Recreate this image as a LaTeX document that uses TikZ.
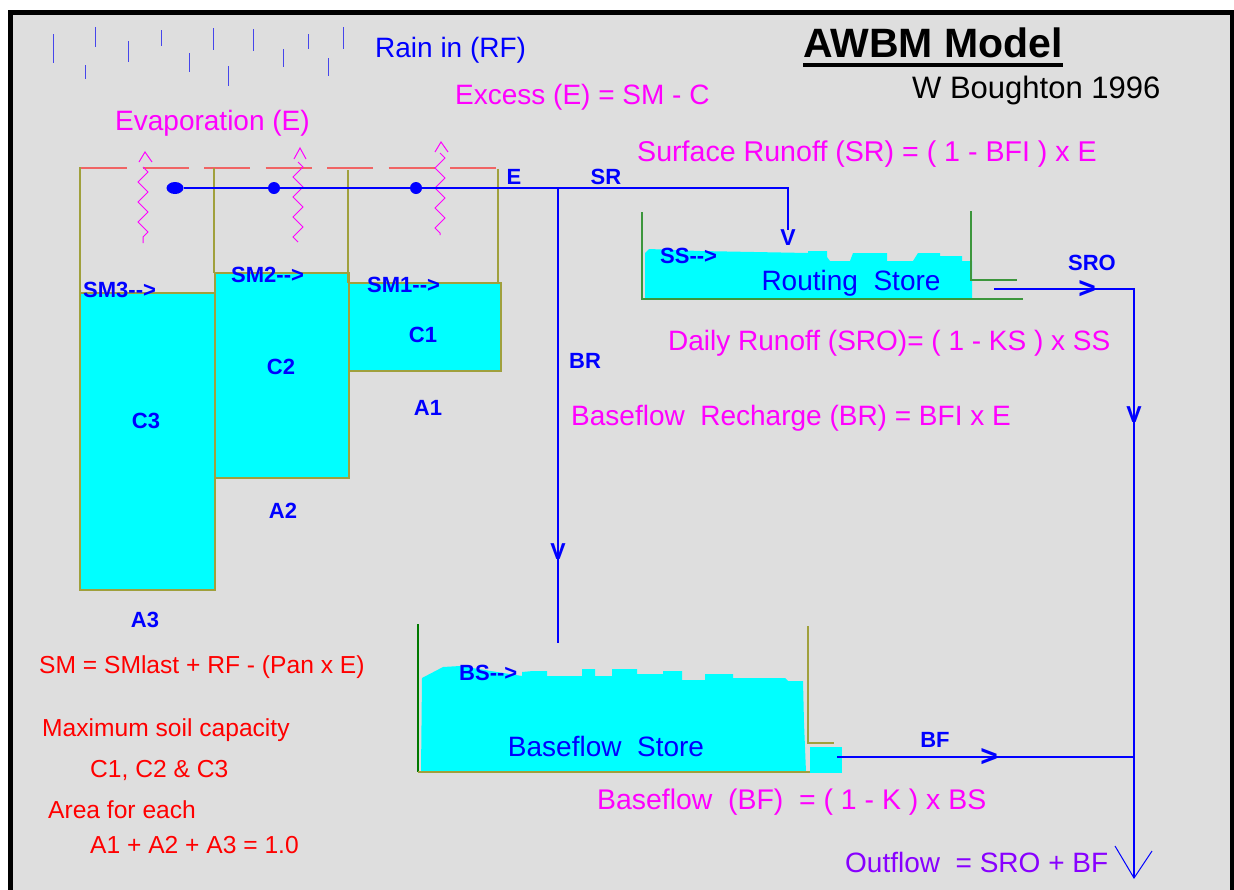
\documentclass[tikz,border=0pt]{standalone}
\usepackage{fontspec}
\setmainfont{Liberation Sans}
\usetikzlibrary{shapes.geometric, decorations.pathmorphing}
\definecolor{panel}{RGB}{222,222,222}
\definecolor{wall}{RGB}{160,160,60}
\definecolor{water}{RGB}{0,255,255}
\definecolor{flow}{RGB}{0,0,255}
\definecolor{rain}{RGB}{70,70,235}
\definecolor{eqn}{RGB}{255,0,255}
\definecolor{note}{RGB}{255,0,0}
\definecolor{outc}{RGB}{136,0,255}
\definecolor{dashc}{RGB}{240,100,100}
\definecolor{grn}{RGB}{60,150,60}
\definecolor{dgrn}{RGB}{0,120,0}

\begin{document}
\begin{tikzpicture}[x=1pt, y=-1pt,
  lbl/.style={inner sep=0pt, font=\fontsize{22}{24}\selectfont\bfseries, text=flow},
  tip/.style={inner sep=0pt, font=\fontsize{23}{26}\selectfont\bfseries, text=flow},
  rtip/.style={inner sep=0pt, font=\fontsize{30}{32}\selectfont\bfseries, text=flow},
  eq/.style={inner sep=0pt, anchor=west, font=\fontsize{28}{32}\selectfont, text=eqn},
  nt/.style={inner sep=0pt, anchor=west, font=\fontsize{24.6}{28}\selectfont, text=note},
  tank/.style={fill=water, draw=wall, line width=1.5pt},
  wl/.style={draw=wall, line width=1.5pt},
  fl/.style={draw=flow, line width=1.5pt},
  dot/.style={circle, fill=flow, inner sep=0pt, minimum size=12pt},
  caret/.style={draw=eqn, line width=1pt},
  evap/.style={draw=eqn, line width=1pt, decorate,
    decoration={zigzag, segment length=20pt, amplitude=5pt}}]
\useasboundingbox (0,0) rectangle (1234,889);
\begin{scope}
  \clip (0,0) rectangle (1234,889);
  \draw[fill=panel, line width=5pt] (10,12) rectangle (1232,905);
\end{scope}

% rain
\foreach \x/\a/\b in {53/34/63, 95/27/47, 85/65/79, 128/41/62, 161/30/46,
  189/53/72, 213/28/50, 228/66/86, 253/29/51, 283/49/67, 308/34/49,
  328/58/76, 343/27/49}
  \draw[rain, line width=1pt] (\x,\a) -- (\x,\b);
\node[eq, text=flow] (rainin) at (375,50) {Rain in (RF)};
\node[eq] (excess) at (455,97) {Excess (E) = SM - C};
\node[eq] (evaptxt) at (115,123) {Evaporation (E)};

% title
\node[inner sep=0pt, anchor=base west, font=\fontsize{41}{44}\selectfont\bfseries] (title) at (803,57) {AWBM Model};
\draw[line width=3.5pt] ([yshift=-8pt]title.base west) -- ([yshift=-8pt]title.base east);
\node[inner sep=0pt, anchor=west, font=\fontsize{31}{34}\selectfont] (author) at (912,90) {W Boughton 1996};

% soil stores
\draw[dashc, line width=1.5pt, dash pattern=on 46pt off 15.5pt] (81,168) -- (497,168);
\draw[tank] (80,293) rectangle (215,590);
\draw[tank] (215,273) rectangle (349,478);
\draw[tank] (349,283) rectangle (501,371);
\draw[wl] (80,167) -- (80,293);
\draw[wl] (214,168) -- (214,273);
\draw[wl] (348,170) -- (348,283);
\draw[wl] (498,169) -- (498,283);
\node[lbl, anchor=base west] (sm3) at (83,297) {SM3{-}{-}>};
\node[lbl, anchor=base west] (sm2) at (231,282) {SM2{-}{-}>};
\node[lbl, anchor=base west] (sm1) at (367,292) {SM1{-}{-}>};
\node[lbl] (c3) at (146,421) {C3};
\node[lbl] (c2) at (281,367) {C2};
\node[lbl] (c1) at (423,335) {C1};
\node[lbl] (a1) at (428,408) {A1};
\node[lbl] (a2) at (283,511) {A2};
\node[lbl] (a3) at (145,620) {A3};

% evaporation
\draw[evap] (143,167) -- (143,243);
\draw[evap] (298,162) -- (298,242);
\draw[evap] (440,153) -- (440,235);
\draw[caret] (139,162) -- (145,152) -- (152,162);
\draw[caret] (294,159) -- (300,148) -- (306,159);
\draw[caret] (435,152) -- (441,142) -- (448,152);

% excess flow
\node[dot, ellipse, minimum width=17pt, minimum height=12pt] (d1) at (175,188) {};
\node[dot] (d2) at (274,188) {};
\node[dot] (d3) at (416,188) {};
\coordinate (jbr) at (558,188);
\node[tip] (srv) at (788,238) {V};
\node[tip] (brv) at (558,552) {V};
\coordinate (brend) at (558,643);
\draw[fl, line width=2pt] (d1) -- (d2) -- (d3) -- (jbr);
\draw[fl, line width=2pt] (jbr) -| (srv.north);
\draw[fl] (jbr) -- (brend);
\node[lbl] (elbl) at (514,177) {E};
\node[lbl] (srlbl) at (606,177) {SR};
\node[lbl] (brlbl) at (585,361) {BR};

% routing store
\fill[water] (645,299) -- (645,253) -- (649,249) -- (700,251) -- (808,253) -- (808,251)
  -- (827,251) -- (827,257) -- (830,261) -- (850,261) -- (853,253) -- (887,253)
  -- (887,261) -- (913,261) -- (918,253) -- (940,253) -- (940,256) -- (962,256)
  -- (962,261) -- (972,261) -- (972,299) -- cycle;
\draw[grn, line width=1.2pt] (642,212) -- (642,299) -- (1023,299);
\draw[grn, line width=1.2pt] (971,211) -- (971,280) -- (1017,280);
\node[lbl, anchor=west] (ss) at (660,256) {SS{-}{-}>};
\node[inner sep=0pt, font=\fontsize{28}{32}\selectfont, text=flow] (routing) at (851,283) {Routing~ Store};

% baseflow store
\fill[water] (421,772) -- (422,678) -- (443,667) -- (460,666) -- (522,676) -- (522,672)
  -- (533,671) -- (547,671) -- (547,676) -- (582,676) -- (582,669) -- (595,669)
  -- (595,676) -- (612,676) -- (612,669) -- (637,669) -- (637,674) -- (663,674)
  -- (663,671) -- (682,671) -- (682,680) -- (705,680) -- (705,674) -- (733,674)
  -- (733,678) -- (785,678) -- (788,681) -- (803,681) -- (804,723) -- (806,772) -- cycle;
\fill[water] (810,747) rectangle (842,773);
\draw[dgrn, line width=1.2pt] (418,624) -- (418,772);
\draw[wall, line width=1.2pt] (418,772) -- (810,772);
\draw[wall, line width=1.2pt] (808,626) -- (808,743) -- (834,743);
\node[lbl, anchor=west] (bs) at (459,673) {BS{-}{-}>};
\node[inner sep=0pt, font=\fontsize{28}{32}\selectfont, text=flow] (baseflow) at (606,746) {Baseflow~ Store};

% outflows
\coordinate (rsout) at (994,289);
\coordinate (jout) at (1134,289);
\coordinate (bsout) at (837,757);
\coordinate (jbf) at (1134,757);
\coordinate (outend) at (1134,878);
\draw[fl] (rsout) -- (jout) -- (outend);
\draw[fl] (bsout) -- (jbf);
\node[rtip] (srotip) at (1087,289) {>};
\node[rtip] (bftip) at (989,757) {>};
\node[tip] (outv) at (1134,415) {V};
\draw[flow, line width=1pt] (1115,846) -- (outend) -- (1152,851);
\node[lbl] (srolbl) at (1092,263) {SRO};
\node[lbl] (bflbl) at (935,740) {BF};

% equations
\node[eq, font=\fontsize{28.6}{32}\selectfont] (sreq) at (637,154) {Surface Runoff (SR) = ( 1 - BFI ) x E};
\node[eq] (sroeq) at (668,343) {Daily Runoff (SRO)= ( 1 - KS ) x SS};
\node[eq] (breq) at (571,418) {Baseflow~ Recharge (BR) = BFI x E};
\node[eq, font=\fontsize{28.4}{32}\selectfont] (bfeq) at (597,802) {Baseflow~ (BF)~ = ( 1 - K ) x BS};
\node[eq, text=outc] (outeq) at (845,862) {Outflow~ = SRO + BF};

% notes
\node[nt] (smeq) at (39,667) {SM = SMlast + RF - (Pan x E)};
\node[nt] (maxcap) at (42,730) {Maximum soil capacity};
\node[nt] (caps) at (90,770) {C1, C2 \& C3};
\node[nt] (area) at (48,810) {Area for each};
\node[nt] (areas) at (90,845) {A1 + A2 + A3 = 1.0};
\end{tikzpicture}
\end{document}
